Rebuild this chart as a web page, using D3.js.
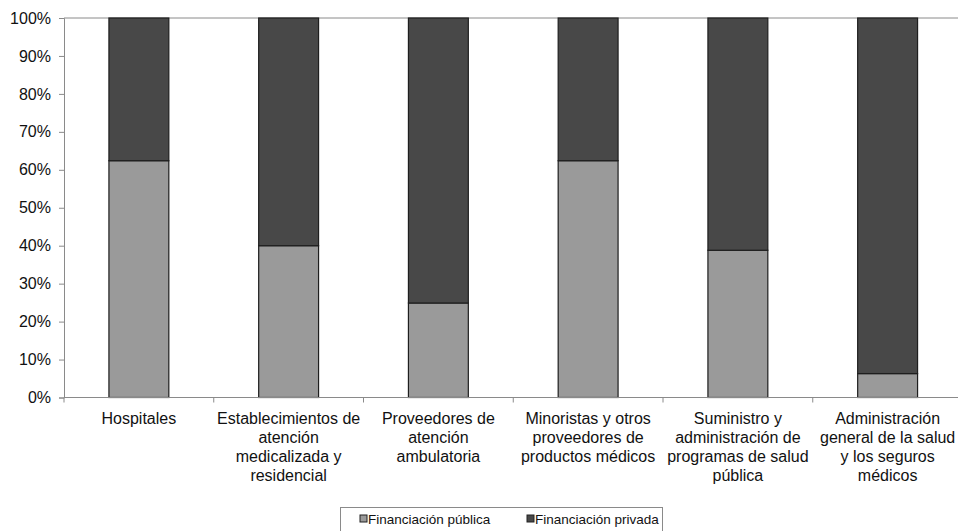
<!DOCTYPE html>
<html><head><meta charset="utf-8">
<script src="https://cdn.jsdelivr.net/npm/d3@7"></script>
<style>body{margin:0;background:#fff}svg{display:block;font-family:"Liberation Sans",Arial,sans-serif}</style>
</head><body><svg id="c" width="958" height="531"></svg>
<script>
const categories = [
  ["Hospitales"],
  ["Establecimientos de","atención","medicalizada y","residencial"],
  ["Proveedores de","atención","ambulatoria"],
  ["Minoristas y otros","proveedores de","productos médicos"],
  ["Suministro y","administración de","programas de salud","pública"],
  ["Administración","general de la salud","y los seguros","médicos"]
];
const publica = [62.4, 40.0, 24.9, 62.4, 38.8, 6.3];
const privada = publica.map(v => 100 - v);
const seriesNames = ["Financiación pública","Financiación privada"];
const seriesColors = ["#9a9a9a","#484848"];
const yTicks = [0,10,20,30,40,50,60,70,80,90,100];

const svg = d3.select("#c");
const L = 64, R = 962.5, T = 18, B = 397.5;
const x = d3.scaleBand().domain(d3.range(categories.length)).range([L, R]).paddingInner(0.6).paddingOuter(0.3);
const y = d3.scaleLinear().domain([0,100]).range([B, T]);

svg.append("line").attr("x1",L).attr("x2",R).attr("y1",T).attr("y2",T).attr("stroke","#8a8a8a").attr("stroke-width",1);

const rows = categories.map((c,i)=>({i, pub: publica[i], priv: privada[i]}));
const stack = d3.stack().keys(["pub","priv"])(rows);
stack.forEach((s,k)=>{
  svg.append("g").selectAll("rect").data(s).join("rect")
    .attr("x", d=>x(d.data.i)).attr("width", x.bandwidth())
    .attr("y", d=>y(d[1])).attr("height", d=>y(d[0])-y(d[1]))
    .attr("fill", seriesColors[k]).attr("stroke","#1e1e1e").attr("stroke-width",1.2);
});

const ya = svg.append("g").attr("transform",`translate(${L},0)`)
  .call(d3.axisLeft(y).tickValues(yTicks).tickFormat(d=>d+"%").tickSize(5).tickPadding(8));
ya.select(".domain").attr("stroke","#8a8a8a");
ya.selectAll(".tick line").attr("stroke","#8a8a8a");
ya.selectAll("text").attr("font-size",16).attr("fill","#111").attr("font-family","Liberation Sans, Arial, sans-serif");

const step = x.step();
svg.append("line").attr("x1",L).attr("x2",R).attr("y1",B).attr("y2",B).attr("stroke","#8a8a8a");
d3.range(categories.length+1).forEach(i=>{
  const xx = L + i*step;
  svg.append("line").attr("x1",xx).attr("x2",xx).attr("y1",B).attr("y2",B+5).attr("stroke","#8a8a8a");
});
categories.forEach((lines,i)=>{
  const t = svg.append("text").attr("text-anchor","middle").attr("font-size",16).attr("fill","#111")
    .attr("x", x(i)+x.bandwidth()/2);
  lines.forEach((ln,j)=>t.append("tspan").attr("x", x(i)+x.bandwidth()/2).attr("y", 424 + j*19).text(ln));
});

svg.append("rect").attr("x",340.5).attr("y",507.5).attr("width",322).attr("height",30).attr("fill","#fff").attr("stroke","#8a8a8a");
const lx = [360, 527];
seriesNames.forEach((n,k)=>{
  svg.append("rect").attr("x",lx[k]).attr("y",515).attr("width",7).attr("height",7)
    .attr("fill",seriesColors[k]).attr("stroke","#222").attr("stroke-width",1);
  svg.append("text").attr("x",lx[k]+8).attr("y",524).attr("font-size",13.5).attr("fill","#111").text(n);
});
</script></body></html>
